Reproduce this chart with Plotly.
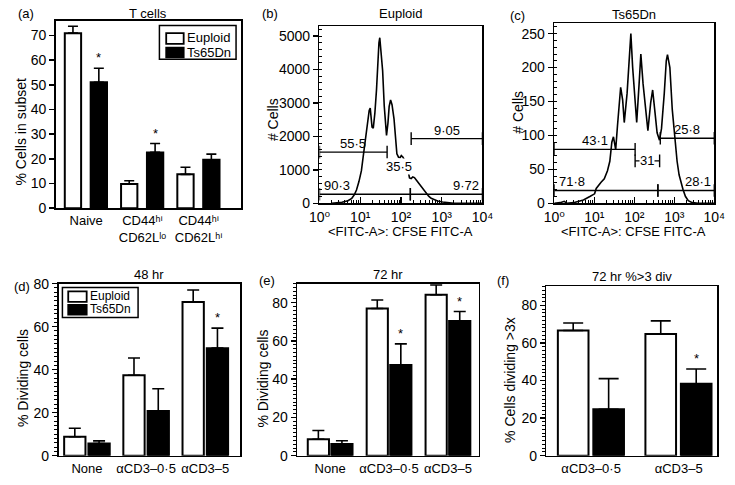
import numpy as np
import plotly.graph_objects as go

# ------------------------------------------------------------------ data
cats_a = ["Naive", "CD44ʰⁱ<br>CD62Lˡᵒ", "CD44ʰⁱ<br>CD62Lʰⁱ"]
euploid_a = [70.9, 9.8, 13.7]
euploid_a_err = [2.8, 1.3, 2.9]
ts65dn_a = [51.0, 22.6, 19.6]
ts65dn_a_err = [5.7, 3.6, 2.3]
sig_a = [True, True, False]

cats_stim = ["None", "αCD3–0·5", "αCD3–5"]
euploid_48 = [8.8, 37.4, 71.4]
euploid_48_err = [4.0, 8.0, 5.6]
ts65dn_48 = [5.7, 20.8, 50.0]
ts65dn_48_err = [1.2, 10.3, 9.3]
sig_48 = [False, False, True]

euploid_72 = [8.6, 77.0, 84.2]
euploid_72_err = [4.6, 4.4, 5.1]
ts65dn_72 = [6.1, 47.5, 70.4]
ts65dn_72_err = [1.7, 11.0, 5.0]
sig_72 = [False, True, True]

cats_div = ["αCD3–0·5", "αCD3–5"]
euploid_div = [66.6, 64.7]
euploid_div_err = [4.0, 7.0]
ts65dn_div = [24.7, 38.3]
ts65dn_div_err = [16.3, 7.8]
sig_div = [False, True]

series_names = ["Euploid", "Ts65Dn"]

# CFSE histograms (FITC intensity, # cells)
hist_b_fitc = [2.0, 3.55, 5.0, 6.2, 7.2, 8.1, 9.3, 10.7, 11.7, 12.9, 14.1, 15.5, 16.6, 17.6,
               18.6, 19.5, 20.9, 22.9, 25.1, 26.9, 28.8, 30.2, 32.4, 35.5, 38.9, 41.7, 44.2,
               47.9, 51.3, 55.6, 60.3, 67.6, 74.1, 79.4, 87.1, 95.5, 102, 112, 120, 135, 148,
               162, 178, 195, 214, 240, 275, 316, 363, 417, 479, 550, 661, 794, 1047, 1413,
               1995, 10000]
hist_b_count = [0, 30, 80, 150, 260, 400, 650, 975, 1350, 1745, 2150, 2515, 2780, 2850,
                2600, 2280, 2250, 2700, 3400, 4200, 4800, 4950, 4600, 3960, 2900, 2250, 2030,
                2400, 2900, 3090, 2950, 2515, 1800, 1480, 1380, 1370, 1430, 1380, 1310, 1165, 1000,
                760, 740, 790, 770, 690, 590, 490, 390, 300, 215, 150, 100, 70, 40, 15,
                0, 0]

hist_c_fitc = [1.0, 1.41, 1.78, 2.09, 3.02, 3.98, 5.37, 7.76, 10.2, 11.2, 12.9, 14.8, 17.8,
               21.4, 24.5, 27.5, 30.2, 34.3, 38.0, 41.7, 45.7, 51.3, 56.2, 66.1, 74.1, 82.2,
               91.2, 105, 115, 132, 146, 166, 195, 219, 257, 288, 331, 372, 427, 479, 562,
               631, 676, 776, 891, 1023, 1175, 1318, 1479, 1660, 1905, 2239, 2818, 3981, 10000]
hist_c_count = [0, 1, 3, 0, 1, 3, 5, 10, 14, 22, 27, 31, 36,
                48, 62, 90, 98, 79, 114, 143, 171, 152, 119, 162, 219, 250,
                200, 148, 119, 176, 220, 176, 133, 107, 148, 167, 133, 104, 93, 110, 162,
                210, 219, 200, 138, 95, 62, 42, 30, 20, 10, 4, 1, 0, 0]

# gates: percentage label, lower bound, upper bound, drawn level
gate_b_label = ["55·5", "35·5", "9·05", "90·3", "9·72"]
gate_b_lo = [1, 45.7, 178, 1, 170]
gate_b_hi = [45.7, 170, 10000, 170, 10000]
gate_b_level = [1530, 1100, 1935, 270, 270]

gate_c_label = ["43·1", "31", "25·8", "71·8", "28·1"]
gate_c_lo = [1, 105, 447, 1, 389]
gate_c_hi = [105, 430, 10000, 389, 10000]
gate_c_level = [79.5, 62.5, 96, 19, 19]

log_tick_vals = [1, 10, 100, 1000, 10000]
log_tick_text = ["10⁰", "10¹", "10²", "10³", "10⁴"]

# ------------------------------------------------------------------ layout helpers
W, H = 735, 485
FONT = "Liberation Sans, Arial, Helvetica, DejaVu Sans, sans-serif"


def fx(p):
    return p / W


def fy(p):
    return 1 - p / H


fig = go.Figure()
annotations = []
shapes = []

bar_panels = [
    dict(n="", cats=cats_a, eu=euploid_a, eue=euploid_a_err, ts=ts65dn_a, tse=ts65dn_a_err,
         sig=sig_a, xr=[-0.543, 2.75], yr=[0, 76], dt=10, minor=None,
         xd=[46, 237], yd=[13, 207], eo=-0.38, to=0.08, w=0.29, cap=5),
    dict(n="4", cats=cats_stim, eu=euploid_48, eue=euploid_48_err, ts=ts65dn_48, tse=ts65dn_48_err,
         sig=sig_48, xr=[-0.48, 2.585], yr=[0, 80], dt=20, minor=2,
         xd=[49, 236], yd=[285, 463], eo=-0.385, to=0.025, w=0.36, cap=6),
    dict(n="5", cats=cats_stim, eu=euploid_72, eue=euploid_72_err, ts=ts65dn_72, tse=ts65dn_72_err,
         sig=sig_72, xr=[-0.56, 2.52], yr=[0, 90], dt=20, minor=2,
         xd=[295, 482], yd=[285, 463], eo=-0.38, to=0.02, w=0.36, cap=6),
    dict(n="6", cats=cats_div, eu=euploid_div, eue=euploid_div_err, ts=ts65dn_div, tse=ts65dn_div_err,
         sig=sig_div, xr=[-0.51, 1.44], yr=[0, 90], dt=20, minor=2,
         xd=[552, 728], yd=[288, 463], eo=-0.38, to=0.025, w=0.35, cap=10),
]

layout_axes = {}
for p in bar_panels:
    xa, ya = "x" + p["n"], "y" + p["n"]
    fig.add_trace(go.Bar(
        x=p["cats"], y=p["eu"], name=series_names[0], xaxis=xa, yaxis=ya,
        offset=p["eo"], width=p["w"],
        marker=dict(color="white", line=dict(color="black", width=2)),
        error_y=dict(type="data", symmetric=False, array=p["eue"], arrayminus=[0] * len(p["eu"]),
                     color="black", thickness=1.6, width=p["cap"]),
        showlegend=False,
    ))
    fig.add_trace(go.Bar(
        x=p["cats"], y=p["ts"], name=series_names[1], xaxis=xa, yaxis=ya,
        offset=p["to"], width=p["w"],
        marker=dict(color="black", line=dict(color="black", width=2)),
        error_y=dict(type="data", symmetric=False, array=p["tse"], arrayminus=[0] * len(p["ts"]),
                     color="black", thickness=1.6, width=p["cap"]),
        showlegend=False,
    ))
    for i, s in enumerate(p["sig"]):
        if s:
            annotations.append(dict(
                x=i + p["to"] + p["w"] / 2, y=p["ts"][i] + p["tse"][i], xref=xa, yref=ya,
                text="*", showarrow=False, yanchor="bottom", yshift=1,
                font=dict(size=13, color="black", family=FONT)))
    layout_axes["xaxis" + p["n"]] = dict(
        domain=[fx(p["xd"][0]), fx(p["xd"][1])], anchor=ya, type="category",
        range=p["xr"], showline=True, linecolor="black", linewidth=1.6, mirror=True,
        ticks="", showgrid=False, zeroline=False,
        tickfont=dict(size=13, color="black", family=FONT), fixedrange=True)
    yax = dict(
        domain=[fy(p["yd"][1]), fy(p["yd"][0])], anchor=xa, range=p["yr"], dtick=p["dt"],
        showline=True, linecolor="black", linewidth=1.6, mirror=True,
        ticks="outside", ticklen=5, tickwidth=1.5, tickcolor="black",
        showgrid=False, zeroline=False,
        tickfont=dict(size=14, color="black", family=FONT))
    if p["minor"]:
        yax["minor"] = dict(dtick=p["minor"], ticks="outside", ticklen=3, tickwidth=1,
                            tickcolor="black", showgrid=False)
    layout_axes["yaxis" + p["n"]] = yax

# ------------------------------------------------------------------ histograms
hist_panels = [
    dict(n="2", fitc=hist_b_fitc, cnt=hist_b_count, glab=gate_b_label, glo=gate_b_lo,
         ghi=gate_b_hi, glev=gate_b_level, yr=[0, 5290], dt=1000, minor=200,
         xd=[318, 486], yd=[19, 202]),
    dict(n="3", fitc=hist_c_fitc, cnt=hist_c_count, glab=gate_c_label, glo=gate_c_lo,
         ghi=gate_c_hi, glev=gate_c_level, yr=[0, 265], dt=50, minor=10,
         xd=[560, 725], yd=[16, 202]),
]
# label placement style for the five gates of each histogram
label_style = ["above", "on", "above", "left", "right"]

for p in hist_panels:
    xa, ya = "x" + p["n"], "y" + p["n"]
    fig.add_trace(go.Scatter(x=p["fitc"], y=p["cnt"], mode="lines", xaxis=xa, yaxis=ya,
                             line=dict(color="black", width=1.6), showlegend=False,
                             hoverinfo="skip"))
    for lab, lo, hi, lev, st in zip(p["glab"], p["glo"], p["ghi"], p["glev"], label_style):
        fig.add_trace(go.Scatter(
            x=[lo, hi], y=[lev, lev], mode="lines+markers", xaxis=xa, yaxis=ya,
            line=dict(color="black", width=1.4), showlegend=False, hoverinfo="skip",
            marker=dict(symbol="line-ns-open", size=9, line=dict(color="black", width=1.4))))
        a = dict(xref=xa, yref=ya, text=lab, showarrow=False, y=lev,
                 font=dict(size=13, color="black", family=FONT))
        if st == "above":
            a.update(x=(np.log10(lo) + np.log10(hi)) / 2, yanchor="bottom", xanchor="center",
                     yshift=-1)
        elif st == "on":
            a.update(x=(np.log10(lo) + np.log10(hi)) / 2, yanchor="middle", xanchor="center",
                     bgcolor="white", borderpad=0)
        elif st == "left":
            a.update(x=np.log10(lo), xanchor="left", yanchor="bottom", xshift=3, yshift=-1)
        else:
            a.update(x=np.log10(hi), xanchor="right", yanchor="bottom", xshift=-1, yshift=-1)
        annotations.append(a)
    layout_axes["xaxis" + p["n"]] = dict(
        domain=[fx(p["xd"][0]), fx(p["xd"][1])], anchor=ya, type="log", range=[0, 4],
        tickmode="array", tickvals=log_tick_vals, ticktext=log_tick_text,
        showline=True, linecolor="black", linewidth=1.6, mirror=True,
        ticks="inside", ticklen=6, tickwidth=1.2, tickcolor="black",
        minor=dict(ticks="inside", ticklen=3, tickwidth=1, tickcolor="black", dtick="D1",
                   showgrid=False),
        showgrid=False, zeroline=False, ticklabeloverflow="allow",
        tickfont=dict(size=14, color="black", family=FONT))
    layout_axes["yaxis" + p["n"]] = dict(
        domain=[fy(p["yd"][1]), fy(p["yd"][0])], anchor=xa, range=p["yr"], dtick=p["dt"],
        showline=True, linecolor="black", linewidth=1.6, mirror=True,
        ticks="outside", ticklen=5, tickwidth=1.5, tickcolor="black",
        minor=dict(dtick=p["minor"], ticks="inside", ticklen=3, tickwidth=1, tickcolor="black",
                   showgrid=False),
        showgrid=False, zeroline=False,
        tickfont=dict(size=14, color="black", family=FONT))

# ------------------------------------------------------------------ texts
def paper_text(text, x, y, xanchor="center", angle=0, size=13):
    annotations.append(dict(xref="paper", yref="paper", x=fx(x), y=fy(y), text=text,
                            showarrow=False, xanchor=xanchor, yanchor="middle",
                            textangle=angle, font=dict(size=size, color="black", family=FONT)))


paper_text("(a)", 5, 6, "left")
paper_text("T cells", 141.5, 6)
paper_text("(b)", 257, 6, "left")
paper_text("Euploid", 402, 6)
paper_text("(c)", 512, 8, "left")
paper_text("Ts65Dn", 642, 7)
paper_text("(d)", 1, 288, "left")
paper_text("48 hr", 142.5, 276)
paper_text("(e)", 254, 282, "left")
paper_text("72 hr", 388.5, 276)
paper_text("(f)", 499, 282, "left")
paper_text("72 hr %&gt;3 div", 640, 278)

paper_text("% Cells in subset", 10, 128, angle=-90, size=14)
paper_text("# Cells", 270, 115, angle=-90, size=14)
paper_text("# Cells", 523, 108, angle=-90, size=14)
paper_text("% Dividing cells", 13, 383, angle=-90, size=14)
paper_text("% Dividing cells", 260, 383, angle=-90, size=14)
paper_text("% Cells dividing &gt;3x", 515, 385, angle=-90, size=14)
paper_text("&lt;FITC-A&gt;: CFSE FITC-A", 402, 231)
paper_text("&lt;FITC-A&gt;: CFSE FITC-A", 642, 231)


# ------------------------------------------------------------------ legends (boxed keys)
def legend_key(box, rows, size):
    x0, y0, x1, y1 = box
    shapes.append(dict(type="rect", xref="paper", yref="paper", x0=fx(x0), x1=fx(x1),
                       y0=fy(y1), y1=fy(y0), line=dict(color="black", width=1.5),
                       fillcolor="white", layer="above"))
    for (name, fill, sw, ty) in rows:
        sx0, sy0, sx1, sy1 = sw
        shapes.append(dict(type="rect", xref="paper", yref="paper", x0=fx(sx0), x1=fx(sx1),
                           y0=fy(sy1), y1=fy(sy0), line=dict(color="black", width=1.8),
                           fillcolor=fill, layer="above"))
        annotations.append(dict(xref="paper", yref="paper", x=fx(sx1 + 2), y=fy(ty),
                                text=name, showarrow=False, xanchor="left", yanchor="middle",
                                borderpad=0,
                                font=dict(size=size, color="black", family=FONT)))


legend_key((153, 18, 232, 53), [(series_names[0], "white", (160, 26, 178, 37), 31),
                                (series_names[1], "black", (160, 41, 178, 51), 46)], 13)
legend_key((53, 289, 131, 320), [(series_names[0], "white", (59, 293, 78, 304), 297.5),
                                 (series_names[1], "black", (59, 307, 78, 317), 311.5)], 12)

fig.update_layout(
    width=W, height=H, margin=dict(l=0, r=0, t=0, b=0),
    paper_bgcolor="white", plot_bgcolor="white",
    font=dict(family=FONT, color="black", size=13),
    barmode="overlay", showlegend=False, hovermode=False,
    annotations=annotations, shapes=shapes,
    **layout_axes,
)

fig.write_html("out.html", config={"displayModeBar": False, "staticPlot": True},
               post_script="document.body.style.margin='0px';document.body.style.overflow='hidden';")
